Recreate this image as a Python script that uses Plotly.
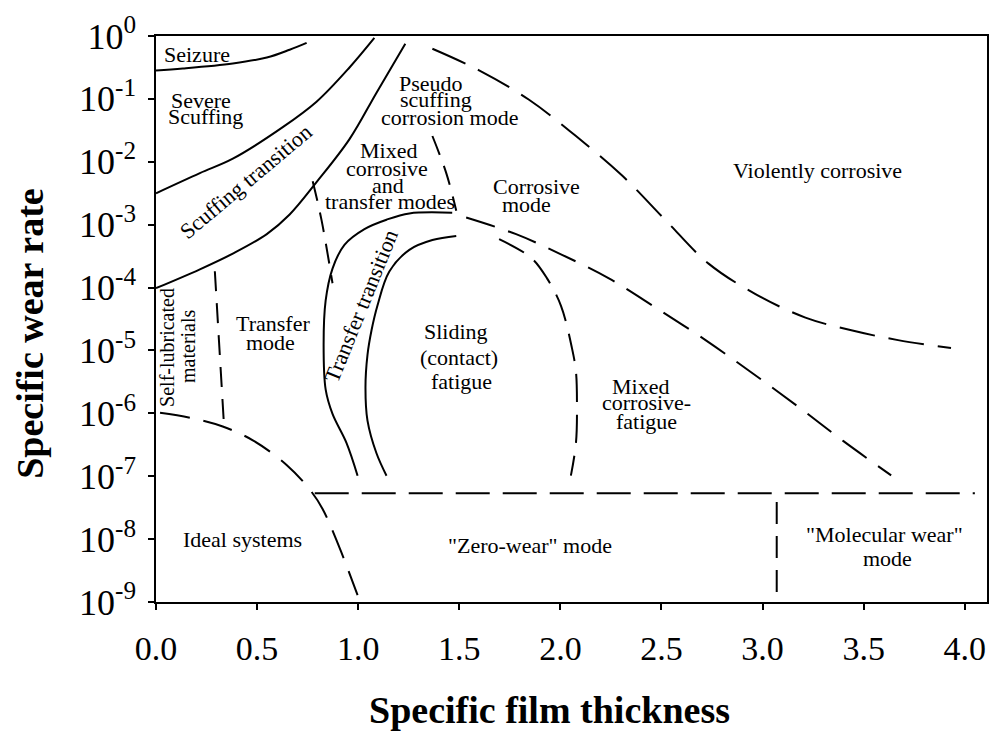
import plotly.graph_objects as go

# ---------------- data ----------------
seizure_x = [0.0, 0.133, 0.38, 0.548, 0.661, 0.745]
seizure_y = [0.284, 0.305, 0.366, 0.454, 0.605, 0.778]

severe_x = [0.0, 0.217, 0.38, 0.627, 0.794, 0.957, 1.08]
severe_y = [3.16e-3, 6.61e-3, 1.12e-2, 3.55e-2, 9.02e-2, 0.316, 0.933]

scuff_low_x = [0.0, 0.217, 0.38, 0.548, 0.661, 0.794, 0.957, 1.09, 1.233]
scuff_low_y = [9.77e-5, 1.95e-4, 3.47e-4, 7.08e-4, 1.45e-3, 4.74e-3, 2.29e-2, 0.1245, 0.750]

transfer_dash_x = [0.775, 0.819, 0.873]
transfer_dash_y = [4.90e-3, 1.17e-3, 1.17e-4]

selflub_x = [0.291, 0.335]
selflub_y = [1.82e-4, 7.59e-7]

ideal_x = [0.02, 0.183, 0.33, 0.479, 0.646, 0.76, 0.824, 0.908, 0.997]
ideal_y = [1.02e-6, 8.32e-7, 6.17e-7, 3.72e-7, 1.51e-7, 6.17e-8, 3.02e-8, 7.24e-9, 1.29e-9]

zero_x = [0.785, 4.05]
zero_y = [5.37e-8, 5.37e-8]

molecular_x = [3.07, 3.07]
molecular_y = [3.89e-8, 1.0e-9]

tt_left_x = [0.997, 0.942, 0.873, 0.839, 0.829, 0.839, 0.873, 0.932, 1.031, 1.14, 1.253, 1.465]
tt_left_y = [1.02e-7, 3.39e-7, 9.77e-7, 2.40e-6, 1.23e-5, 6.17e-5, 2.00e-4, 4.79e-4, 8.51e-4,
             1.20e-3, 1.51e-3, 1.55e-3]

slide_left_x = [1.14, 1.09, 1.046, 1.036, 1.046, 1.066, 1.095, 1.154, 1.253, 1.367, 1.485]
slide_left_y = [1.02e-7, 2.34e-7, 7.67e-7, 2.60e-6, 8.51e-6, 2.09e-5, 5.13e-5, 1.80e-4, 3.98e-4,
                5.69e-4, 6.61e-4]

slide_right_x = [1.697, 1.855, 1.934, 2.003, 2.057, 2.077, 2.082, 2.077, 2.052]
slide_right_y = [5.89e-4, 2.98e-4, 1.40e-4, 5.13e-5, 1.10e-5, 4.62e-6, 1.41e-6, 3.36e-7, 1.02e-7]

corr_low_x = [1.534, 1.781, 2.008, 2.24, 2.472, 2.718, 2.945, 3.177, 3.40, 3.636]
corr_low_y = [1.30e-3, 7.06e-4, 3.32e-4, 1.40e-4, 4.79e-5, 1.46e-5, 4.46e-6, 1.27e-6, 3.61e-7, 1.03e-7]

pseudo_x = [1.367, 1.436, 1.485]
pseudo_y = [2.57e-2, 6.55e-3, 1.67e-3]

violent_x = [1.367, 1.598, 1.845, 2.077, 2.304, 2.521, 2.733, 2.965, 3.212, 3.439, 3.67, 3.932]
violent_y = [0.627, 0.284, 9.68e-2, 2.56e-2, 6.10e-3, 1.17e-3, 2.40e-4, 7.89e-5, 3.33e-5,
             2.09e-5, 1.46e-5, 1.09e-5]

x_ticks = [0.0, 0.5, 1.0, 1.5, 2.0, 2.5, 3.0, 3.5, 4.0]
x_tick_text = ["0.0", "0.5", "1.0", "1.5", "2.0", "2.5", "3.0", "3.5", "4.0"]
y_ticks = [1, 1e-1, 1e-2, 1e-3, 1e-4, 1e-5, 1e-6, 1e-7, 1e-8, 1e-9]
y_tick_text = ["10<sup>0</sup>", "10<sup>-1</sup>", "10<sup>-2</sup>", "10<sup>-3</sup>",
               "10<sup>-4</sup>", "10<sup>-5</sup>", "10<sup>-6</sup>", "10<sup>-7</sup>",
               "10<sup>-8</sup>", "10<sup>-9</sup>"]

x_title = "Specific film thickness"
y_title = "Specific wear rate"

# region labels: text, x, log10(y), angle
labels = [
    ("Seizure", 0.202, -0.296, 0),
    ("Severe", 0.222, -1.03, 0),
    ("Scuffing", 0.247, -1.28, 0),
    ("Scuffing transition", 0.444, -2.32, -40),
    ("Pseudo", 1.362, -0.75, 0),
    ("scuffing", 1.386, -1.01, 0),
    ("corrosion mode", 1.45, -1.295, 0),
    ("Mixed", 1.149, -1.825, 0),
    ("corrosive", 1.14, -2.106, 0),
    ("and", 1.145, -2.371, 0),
    ("transfer modes", 1.159, -2.637, 0),
    ("Corrosive", 1.88, -2.40, 0),
    ("mode", 1.83, -2.68, 0),
    ("Violently corrosive", 3.271, -2.137, 0),
    ("Transfer", 0.577, -4.571, 0),
    ("mode", 0.567, -4.867, 0),
    ("Transfer transition", 1.016, -4.29, -68),
    ("Sliding", 1.485, -4.696, 0),
    ("(contact)", 1.50, -5.117, 0),
    ("fatigue", 1.51, -5.49, 0),
    ("Mixed", 2.398, -5.57, 0),
    ("corrosive-", 2.427, -5.835, 0),
    ("fatigue", 2.427, -6.13, 0),
    ("Ideal systems", 0.429, -8.003, 0),
    ("\"Zero-wear\" mode", 1.85, -8.097, 0),
    ("\"Molecular wear\"", 3.601, -7.925, 0),
    ("mode", 3.616, -8.315, 0),
]
small_labels = [
    ("Self-lubricated", 0.054, -4.945, -90),
    ("materials", 0.158, -4.93, -90),
]

# ---------------- figure ----------------
SERIF = "Liberation Serif, Times New Roman, serif"
fig = go.Figure()

def add_line(x, y, dash="solid"):
    fig.add_trace(go.Scatter(
        x=x, y=y, mode="lines",
        line=dict(color="black", width=2, dash=dash, shape="spline", smoothing=1.0),
        showlegend=False, hoverinfo="skip"))

LONG = "30px,14px"
SHORT = "20px,12px"
add_line(seizure_x, seizure_y)
add_line(severe_x, severe_y)
add_line(scuff_low_x, scuff_low_y)
add_line(transfer_dash_x, transfer_dash_y, SHORT)
add_line(selflub_x, selflub_y, SHORT)
add_line(ideal_x, ideal_y, LONG)
add_line(zero_x, zero_y, "34px,13px")
add_line(molecular_x, molecular_y, "22px,12px")
add_line(tt_left_x, tt_left_y)
add_line(slide_left_x, slide_left_y)
add_line(slide_right_x, slide_right_y, "28px,13px")
add_line(corr_low_x, corr_low_y, LONG)
add_line(pseudo_x, pseudo_y, SHORT)
add_line(violent_x, violent_y, "36px,14px")

for text, x, ly, ang in labels:
    fig.add_annotation(x=x, y=ly, text=text, showarrow=False, textangle=ang,
                       font=dict(family=SERIF, size=22, color="black"),
                       xanchor="center", yanchor="middle")
for text, x, ly, ang in small_labels:
    fig.add_annotation(x=x, y=ly, text=text, showarrow=False, textangle=ang,
                       font=dict(family=SERIF, size=20, color="black"),
                       xanchor="center", yanchor="middle")

# axis titles (placed as paper-anchored texts to match the reference offsets)
fig.add_annotation(xref="paper", yref="paper", x=0.473, y=-0.19, text="<b>%s</b>" % x_title,
                   showarrow=False, xanchor="center", yanchor="middle",
                   font=dict(family=SERIF, size=38, color="black"))
fig.add_annotation(xref="paper", yref="paper", x=-0.152, y=0.475, text="<b>%s</b>" % y_title,
                   showarrow=False, xanchor="center", yanchor="middle", textangle=-90,
                   font=dict(family=SERIF, size=38, color="black"))

fig.update_layout(
    width=1000, height=740,
    margin=dict(l=156, r=11, t=25, b=138),
    paper_bgcolor="white", plot_bgcolor="white",
    font=dict(family=SERIF, color="black"),
    showlegend=False,
)
fig.update_xaxes(
    range=[0, 4.11], tickvals=x_ticks, ticktext=x_tick_text,
    showline=True, linecolor="black", linewidth=1.5, mirror=True,
    ticks="outside", ticklen=6, tickwidth=1.5, tickcolor="black",
    showgrid=False, zeroline=False,
    tickfont=dict(family=SERIF, size=34, color="black"),
    ticklabelstandoff=9,
)
fig.update_yaxes(
    type="log", range=[-9, 0], tickvals=y_ticks, ticktext=y_tick_text,
    showline=True, linecolor="black", linewidth=1.5, mirror=True,
    ticks="outside", ticklen=6, tickwidth=1.5, tickcolor="black",
    showgrid=False, zeroline=False,
    tickfont=dict(family=SERIF, size=36, color="black"),
    ticklabelstandoff=5,
)

fig.write_html("out.html")
